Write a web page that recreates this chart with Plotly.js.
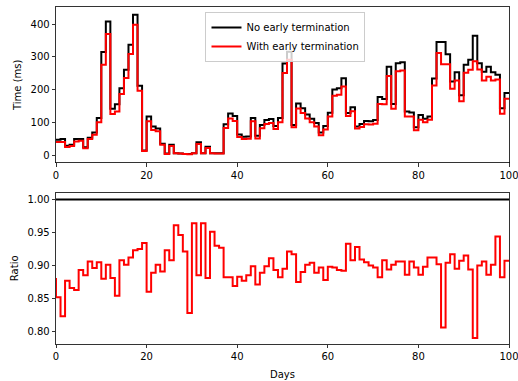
<!DOCTYPE html>
<html>
<head>
<meta charset="utf-8">
<script src="https://cdn.plot.ly/plotly-3.0.1.min.js"></script>
<style>html,body{margin:0;padding:0;background:#fff;}#chart{width:518px;height:381px;}</style>
</head>
<body>
<div id="chart"></div>
<script>
// Day boundaries 0..100 (step "pre": value i holds on interval (i-1, i])
const days = Array.from({length: 101}, (_, i) => i);

// Time (ms) without early termination
const timeNoEarly = [48,
  48, 50, 30, 33, 50, 50, 25, 54, 70, 114,
  315, 408, 142, 156, 205, 261, 337, 428, 212, 15,
  119, 88, 82, 36, 6, 33, 7, 6, 5, 5,
  7, 40, 7, 27, 7, 7, 7, 95, 128, 120,
  64, 57, 58, 114, 60, 93, 108, 111, 90, 114,
  280, 316, 93, 158, 144, 125, 112, 99, 70, 90,
  130, 201, 205, 235, 129, 147, 88, 96, 105, 104,
  108, 178, 172, 270, 157, 281, 284, 134, 131, 86,
  123, 112, 119, 234, 345, 345, 308, 225, 253, 183,
  276, 291, 364, 281, 255, 270, 253, 246, 144, 190];

// Time (ms) with early termination
const timeEarly = [41,
  41, 41, 26, 29, 43, 45, 22, 50, 63, 101,
  276, 370, 126, 134, 187, 236, 309, 398, 197, 14,
  104, 78, 74, 33, 5, 29, 7, 6, 5, 4,
  7, 35, 7, 23, 7, 6, 6, 84, 113, 105,
  56, 50, 51, 104, 52, 83, 96, 99, 81, 101,
  251, 291, 86, 143, 129, 113, 101, 88, 62, 79,
  119, 182, 185, 210, 120, 135, 82, 87, 95, 94,
  97, 157, 156, 242, 142, 256, 259, 119, 119, 77,
  109, 101, 109, 213, 312, 278, 278, 203, 228, 165,
  252, 261, 287, 262, 228, 240, 228, 231, 127, 173];

// Ratio (with / without early termination)
const ratioEarly = [0.881,
  0.852, 0.823, 0.877, 0.866, 0.863, 0.893, 0.885, 0.906, 0.896, 0.905,
  0.880, 0.901, 0.881, 0.854, 0.908, 0.901, 0.912, 0.923, 0.925, 0.934,
  0.860, 0.889, 0.901, 0.891, 0.923, 0.908, 0.961, 0.946, 0.921, 0.828,
  0.964, 0.885, 0.964, 0.881, 0.951, 0.930, 0.927, 0.882, 0.882, 0.869,
  0.883, 0.877, 0.885, 0.899, 0.871, 0.889, 0.899, 0.911, 0.893, 0.882,
  0.895, 0.921, 0.917, 0.875, 0.890, 0.901, 0.904, 0.889, 0.897, 0.878,
  0.898, 0.897, 0.893, 0.892, 0.933, 0.908, 0.928, 0.909, 0.905, 0.900,
  0.897, 0.882, 0.908, 0.894, 0.901, 0.906, 0.906, 0.886, 0.906, 0.897,
  0.886, 0.898, 0.912, 0.912, 0.902, 0.806, 0.904, 0.917, 0.895, 0.907,
  0.915, 0.894, 0.790, 0.900, 0.906, 0.886, 0.901, 0.944, 0.882, 0.907];

// Reference ratio (no early termination = 1)
const ratioNoEarly = [1,
  1,1,1,1,1,1,1,1,1,1, 1,1,1,1,1,1,1,1,1,1,
  1,1,1,1,1,1,1,1,1,1, 1,1,1,1,1,1,1,1,1,1,
  1,1,1,1,1,1,1,1,1,1, 1,1,1,1,1,1,1,1,1,1,
  1,1,1,1,1,1,1,1,1,1, 1,1,1,1,1,1,1,1,1,1,
  1,1,1,1,1,1,1,1,1,1, 1,1,1,1,1,1,1,1,1,1];

const seriesNames = ["No early termination", "With early termination"];
const xTicks = [0, 20, 40, 60, 80, 100];
const timeTicks = [0, 100, 200, 300, 400];
const ratioTicks = [0.80, 0.85, 0.90, 0.95, 1.00];

const traces = [
  {x: days, y: timeNoEarly, type: 'scatter', mode: 'lines', name: seriesNames[0],
   line: {color: '#000000', width: 2, shape: 'vh'}, xaxis: 'x', yaxis: 'y'},
  {x: days, y: timeEarly, type: 'scatter', mode: 'lines', name: seriesNames[1],
   line: {color: '#ff0000', width: 2, shape: 'vh'}, xaxis: 'x', yaxis: 'y'},
  {x: days, y: ratioNoEarly, type: 'scatter', mode: 'lines', showlegend: false,
   line: {color: '#000000', width: 2, shape: 'vh'}, xaxis: 'x2', yaxis: 'y2'},
  {x: days, y: ratioEarly, type: 'scatter', mode: 'lines', showlegend: false,
   line: {color: '#ff0000', width: 2, shape: 'vh'}, xaxis: 'x2', yaxis: 'y2'}
];

const axisCommon = {
  showline: true, mirror: true, linecolor: '#000000', linewidth: 0.8,
  ticks: 'outside', ticklen: 3.5, tickwidth: 0.8, tickcolor: '#000000',
  showgrid: false, zeroline: false, ticklabeloverflow: 'allow',
  tickfont: {family: 'DejaVu Sans', size: 10, color: '#000000'}
};

const layout = {
  width: 518, height: 381,
  margin: {l: 56, r: 9, t: 7, b: 37},
  paper_bgcolor: '#ffffff', plot_bgcolor: '#ffffff',
  font: {family: 'DejaVu Sans', size: 10, color: '#000000'},
  showlegend: true,
  legend: {x: 0.33, y: 0.985, xanchor: 'left', yanchor: 'top',
           bgcolor: 'rgba(255,255,255,0.8)', bordercolor: '#cccccc', borderwidth: 1,
           font: {family: 'DejaVu Sans', size: 10, color: '#000000'}, tracegroupgap: 0},
  xaxis: Object.assign({}, axisCommon, {domain: [0, 1], anchor: 'y', range: [0, 100],
           tickvals: xTicks}),
  yaxis: Object.assign({}, axisCommon, {domain: [0.5385, 1], anchor: 'x', range: [-21.3, 451.8],
           tickvals: timeTicks,
           title: {text: 'Time (ms)', standoff: 6, font: {family: 'DejaVu Sans', size: 10, color: '#000000'}}}),
  xaxis2: Object.assign({}, axisCommon, {domain: [0, 1], anchor: 'y2', range: [0, 100],
           tickvals: xTicks,
           title: {text: 'Days', standoff: 9, font: {family: 'DejaVu Sans', size: 10, color: '#000000'}}}),
  yaxis2: Object.assign({}, axisCommon, {domain: [0, 0.4494], anchor: 'x2', range: [0.781, 1.0105],
           tickvals: ratioTicks, tickformat: '.2f',
           title: {text: 'Ratio', standoff: 6, font: {family: 'DejaVu Sans', size: 10, color: '#000000'}}})
};

Plotly.newPlot('chart', traces, layout, {staticPlot: true, displayModeBar: false});
</script>
</body>
</html>
